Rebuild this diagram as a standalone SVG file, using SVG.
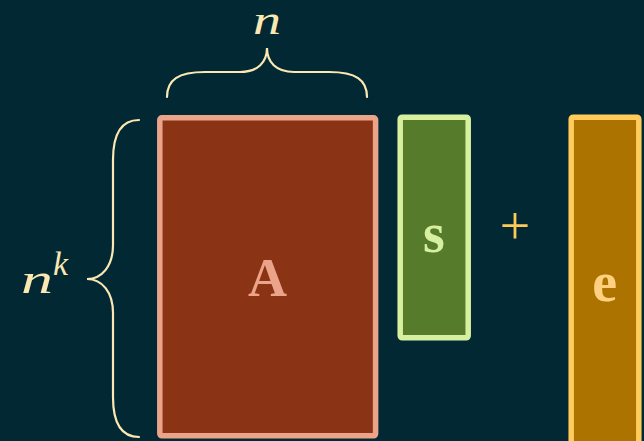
<svg xmlns="http://www.w3.org/2000/svg" width="644" height="441" viewBox="0 0 644 441">
  <style>
    .brace { fill: none; stroke: #fce8b2; stroke-width: 2.2; stroke-linecap: round; }
    .math { font-family: "Liberation Serif", "DejaVu Serif", serif; font-style: italic; fill: #fce8b2; }
    .lbl { font-family: "Liberation Serif", "DejaVu Serif", serif; font-weight: bold; text-anchor: middle; }
  </style>
  <rect width="644" height="441" fill="#022833"/>

  <!-- dimension braces -->
  <g id="braces">
    <path class="brace" d="M167,97 C167,80 178,72 205,72 L240,72 C258,72 267,62 267,48 C267,62 276,72 294,72 L329,72 C356,72 367,80 367,97"/>
    <path class="brace" d="M139,120 C122,120 113,133 113,160 L113,245 C113,266 102,279 87,279 C102,279 113,292 113,313 L113,397 C113,424 122,437 139,437"/>
    <text class="math" x="267" y="34" font-size="40" text-anchor="middle" textLength="28" lengthAdjust="spacingAndGlyphs">n</text>
    <text class="math" x="21" y="293" font-size="42" textLength="32" lengthAdjust="spacingAndGlyphs">n</text>
    <text class="math" x="53" y="275" font-size="34" textLength="15" lengthAdjust="spacingAndGlyphs">k</text>
  </g>

  <!-- matrix A -->
  <g id="A">
    <rect x="159.8" y="117.8" width="215.8" height="318" rx="2" fill="#8b3415" stroke="#eba38a" stroke-width="5.5"/>
    <text class="lbl" x="267.5" y="296" font-size="54" fill="#eba38a">A</text>
  </g>

  <!-- secret vector s -->
  <g id="s">
    <rect x="400.2" y="117.2" width="68" height="220.6" rx="2" fill="#567b2b" stroke="#d7f0a0" stroke-width="5.5"/>
    <text class="lbl" x="434" y="251.5" font-size="56" fill="#d7f0a0">s</text>
  </g>

  <!-- plus sign -->
  <g id="plus">
    <text x="515" y="244" font-family="Liberation Serif, DejaVu Serif, serif" font-size="54" text-anchor="middle" fill="#ffc95a">+</text>
  </g>

  <!-- error vector e -->
  <g id="e">
    <rect x="571.2" y="117.2" width="67.6" height="330" rx="2" fill="#ad7300" stroke="#ffcb5a" stroke-width="5.5"/>
    <text class="lbl" x="604.7" y="300.5" font-size="56" fill="#ffd080">e</text>
  </g>
</svg>
